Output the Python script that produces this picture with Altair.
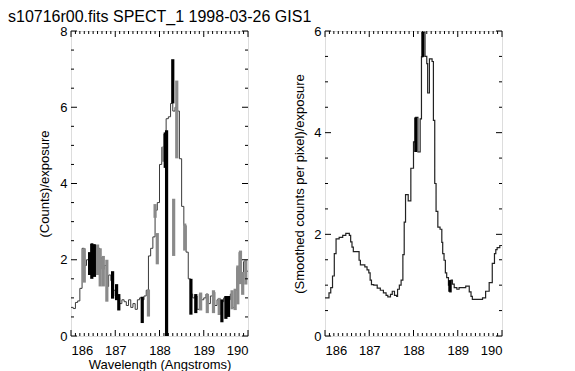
import altair as alt
import pandas as pd

TITLE = "s10716r00.fits SPECT_1 1998-03-26 GIS1"
FONT = "Liberation Sans"

# ---------------- Left panel: counts/exposure histogram ----------------
left_bin_start = 186.00
left_bin_width = 0.05
left_values = [0.75, 0.72, 0.88, 0.92, 1.25, 2.30, 1.85, 2.00, 2.15, 2.42,
               2.40, 2.35, 2.30, 2.05, 1.75, 1.85, 1.30, 1.60, 1.45, 1.20,
               1.05, 1.00, 0.85, 0.95, 0.90, 0.80, 0.95, 0.75, 0.85, 0.70,
               0.95, 1.00, 0.95, 1.05, 1.20, 2.10, 2.30, 2.60, 3.30, 3.50,
               4.50, 4.95, 5.30, 5.70, 5.75, 6.10, 5.90, 6.00, 5.90, 4.65,
               3.40, 2.90, 2.20, 1.50, 1.10, 1.00, 1.05, 0.70, 1.10, 0.95,
               1.00, 1.10, 0.85, 1.05, 1.15, 0.80, 0.95, 0.60, 0.90, 1.00,
               0.55, 0.95, 1.10, 0.75, 1.20, 1.80, 2.20, 1.50, 1.95, 1.70]

# thick vertical bars (error bars) : position, low, high, colour group
bar_x = [186.30, 186.42, 186.47, 186.53, 186.60, 186.66, 186.73, 186.81,
         186.94, 187.03, 187.08, 187.61, 187.75, 187.90, 187.95, 188.08,
         188.13, 188.16, 188.30, 188.32, 188.39, 188.57, 188.71, 188.82,
         188.93, 189.08, 189.22, 189.35, 189.41, 189.50, 189.56, 189.64,
         189.71, 189.77, 189.83, 189.88, 189.95]
bar_lo = [1.40, 1.60, 1.50, 1.55, 1.60, 1.30, 1.30, 0.90,
          0.98, 0.94, 0.67, 0.34, 0.51, 3.10, 1.88, 4.57,
          4.41, 0.00, 6.10, 2.10, 4.66, 2.24, 0.56, 0.60,
          0.67, 0.60, 0.60, 0.55, 0.36, 0.45, 0.50, 0.70,
          0.68, 0.83, 1.36, 1.08, 1.35]
bar_hi = [2.30, 2.20, 2.42, 2.40, 2.40, 2.30, 2.10, 2.00,
          1.70, 1.36, 1.10, 1.03, 1.22, 3.46, 2.70, 4.96,
          5.34, 5.40, 7.26, 3.60, 6.70, 2.95, 1.50, 1.10,
          1.14, 1.10, 1.20, 1.00, 0.96, 1.05, 1.05, 1.20,
          1.24, 1.85, 2.24, 1.68, 2.00]
bar_col = ["g", "k", "k", "k", "g", "g", "g", "g",
           "k", "k", "k", "k", "g", "g", "g", "g",
           "k", "k", "k", "g", "g", "g", "k", "k",
           "g", "g", "g", "g", "k", "k", "k", "g",
           "g", "g", "g", "g", "g"]

# ---------------- Right panel: smoothed counts ----------------
right_edges = [186.00, 186.09, 186.13, 186.17, 186.21, 186.25, 186.32, 186.40,
               186.47, 186.55, 186.58, 186.61, 186.64, 186.77, 186.80, 186.84,
               186.90, 186.95, 186.99, 187.02, 187.05, 187.10, 187.18, 187.25,
               187.32, 187.38, 187.42, 187.48, 187.52, 187.57, 187.62, 187.64,
               187.68, 187.72, 187.76, 187.79, 187.82, 187.88, 187.94, 188.00,
               188.05, 188.10, 188.15, 188.18, 188.21, 188.26, 188.30, 188.32,
               188.36, 188.42, 188.45, 188.48, 188.51, 188.55, 188.60, 188.64,
               188.66, 188.69, 188.72, 188.75, 188.79, 188.82, 188.85, 188.88,
               188.92, 188.98, 189.03, 189.18, 189.26, 189.30, 189.33, 189.56,
               189.63, 189.71, 189.78, 189.83, 189.86, 189.89, 189.95]
right_values = [0.75, 0.85, 0.95, 1.18, 1.62, 1.91, 1.94, 1.98,
                2.02, 1.98, 1.85, 1.75, 1.66, 1.49, 1.40, 1.40,
                1.36, 1.30, 1.24, 1.10, 1.01, 1.00, 0.94, 0.90,
                0.85, 0.80, 0.77, 0.82, 0.88, 0.80, 0.78, 0.92,
                1.00, 1.10, 1.60, 2.24, 2.78, 2.66, 3.30, 3.82,
                4.30, 3.62, 4.27, 5.49, 5.98, 5.50, 5.36, 4.78,
                5.45, 5.40, 4.24, 3.00, 2.45, 2.14, 2.10, 1.84,
                1.62, 1.49, 1.24, 1.15, 1.00, 0.87, 1.10, 1.02,
                0.95, 0.92, 0.95, 0.98, 0.87, 0.78, 0.72, 0.75,
                0.88, 1.05, 1.43, 1.62, 1.70, 1.74, 1.78]
right_end = 190.0

thick_x = [188.05, 188.21, 188.82]
thick_lo = [3.62, 5.49, 0.87]
thick_hi = [4.30, 5.98, 1.10]

# ---------------- Axis ticks ----------------
x_major = [186, 187, 188, 189, 190]
x_minor = [186.1, 186.2, 186.3, 186.4, 186.5, 186.6, 186.7, 186.8, 186.9,
           187.1, 187.2, 187.3, 187.4, 187.5, 187.6, 187.7, 187.8, 187.9,
           188.1, 188.2, 188.3, 188.4, 188.5, 188.6, 188.7, 188.8, 188.9,
           189.1, 189.2, 189.3, 189.4, 189.5, 189.6, 189.7, 189.8, 189.9]
left_y_major = [0, 2, 4, 6, 8]
left_y_minor = [0.5, 1, 1.5, 2.5, 3, 3.5, 4.5, 5, 5.5, 6.5, 7, 7.5]
right_y_major = [0, 2, 4, 6]
right_y_minor = [0.5, 1, 1.5, 2.5, 3, 3.5, 4.5, 5, 5.5]

W, H = 177, 305
MAJ, MIN = 6, 3


def tick_layers(xdom, ydom, ymaj, ymin):
    xs = alt.Scale(domain=xdom, nice=False, zero=False)
    ys = alt.Scale(domain=ydom, nice=False, zero=False)
    layers = []
    for vals, ln in ((x_major, MAJ), (x_minor, MIN)):
        d = pd.DataFrame({"t": vals})
        base = alt.Chart(d).mark_rule(color="black", strokeWidth=1)
        layers.append(base.encode(x=alt.X("t:Q", scale=xs), y=alt.value(H), y2=alt.value(H - ln)))
        layers.append(base.encode(x=alt.X("t:Q", scale=xs), y=alt.value(0), y2=alt.value(ln)))
    for vals, ln in ((ymaj, MAJ), (ymin, MIN)):
        d = pd.DataFrame({"t": vals})
        base = alt.Chart(d).mark_rule(color="black", strokeWidth=1)
        layers.append(base.encode(y=alt.Y("t:Q", scale=ys), x=alt.value(0), x2=alt.value(ln)))
        layers.append(base.encode(y=alt.Y("t:Q", scale=ys), x=alt.value(W), x2=alt.value(W - ln)))
    return layers


# Left step data
left_x = [round(left_bin_start + left_bin_width * i, 3) for i in range(len(left_values))] + [190.0]
left_df = pd.DataFrame({"w": left_x, "v": left_values + [left_values[-1]]})
bars_df = pd.DataFrame({"w": bar_x, "lo": bar_lo, "hi": bar_hi, "c": bar_col})

xsL = alt.Scale(domain=[186, 190], nice=False, zero=False)
ysL = alt.Scale(domain=[0, 8], nice=False, zero=False)

x_axis_L = alt.Axis(values=x_major, format="d", ticks=False, domain=False, grid=False,
                    labelFontSize=13, labelPadding=8, labelColor="black", labelFont=FONT,
                    title="Wavelength (Angstroms)", titleFontSize=13, titleFont=FONT,
                    titleFontWeight="normal", titlePadding=1, titleColor="black")
y_axis_L = alt.Axis(values=left_y_major, format="d", ticks=False, domain=False, grid=False,
                    labelFontSize=13, labelPadding=4, labelColor="black", labelFont=FONT,
                    title="(Counts)/exposure", titleFontSize=13, titleFont=FONT,
                    titleFontWeight="normal", titlePadding=8, titleColor="black")

left_line = alt.Chart(left_df).mark_line(interpolate="step-after", color="#3a3a3a", strokeWidth=1).encode(
    x=alt.X("w:Q", scale=xsL, axis=x_axis_L),
    y=alt.Y("v:Q", scale=ysL, axis=y_axis_L),
)
left_bars = alt.Chart(bars_df).mark_rule(strokeWidth=3.2).encode(
    x=alt.X("w:Q", scale=xsL),
    y=alt.Y("lo:Q", scale=ysL),
    y2="hi:Q",
    color=alt.Color("c:N", scale=alt.Scale(domain=["k", "g"], range=["#000000", "#8a8a8a"]), legend=None),
)
# white spacer that reserves the left margin in front of the first panel
spacer = alt.Chart(pd.DataFrame({"s": [0]})).mark_rule(color="white", strokeWidth=1).encode(
    x=alt.value(-62), x2=alt.value(-61), y=alt.value(H / 2)
)
left = alt.layer(left_line, left_bars, spacer,
                 *tick_layers([186, 190], [0, 8], left_y_major, left_y_minor)).properties(width=W, height=H)

# Right step data
right_df = pd.DataFrame({"w": right_edges + [right_end], "v": right_values + [right_values[-1]]})
thick_df = pd.DataFrame({"w": thick_x, "lo": thick_lo, "hi": thick_hi})
xsR = alt.Scale(domain=[186, 190], nice=False, zero=False)
ysR = alt.Scale(domain=[0, 6], nice=False, zero=False)

x_axis_R = alt.Axis(values=x_major, format="d", ticks=False, domain=False, grid=False,
                    labelFontSize=13, labelPadding=8, labelColor="black", labelFont=FONT, title=None)
y_axis_R = alt.Axis(values=right_y_major, format="d", ticks=False, domain=False, grid=False,
                    labelFontSize=13, labelPadding=4, labelColor="black", labelFont=FONT,
                    title="(Smoothed counts per pixel)/exposure", titleFontSize=13, titleFont=FONT,
                    titleFontWeight="normal", titlePadding=7, titleColor="black")

right_line = alt.Chart(right_df).mark_line(interpolate="step-after", color="#222222", strokeWidth=1.2).encode(
    x=alt.X("w:Q", scale=xsR, axis=x_axis_R),
    y=alt.Y("v:Q", scale=ysR, axis=y_axis_R),
)
right_thick = alt.Chart(thick_df).mark_rule(strokeWidth=3, color="black").encode(
    x=alt.X("w:Q", scale=xsR),
    y=alt.Y("lo:Q", scale=ysR),
    y2="hi:Q",
)
right = alt.layer(right_line, right_thick,
                  *tick_layers([186, 190], [0, 6], right_y_major, right_y_minor)).properties(width=W, height=H)

chart = alt.hconcat(left, right, spacing=42).properties(
    title=alt.TitleParams(TITLE, anchor="start", fontSize=16, font=FONT, fontWeight="normal",
                          color="black", offset=0, frame="bounds"),
    padding={"left": 0, "top": 0, "right": 0, "bottom": 0},
).configure_view(stroke="black", strokeWidth=2).configure(background="white")

chart.save("out.html", embed_options={"renderer": "svg", "actions": False})
